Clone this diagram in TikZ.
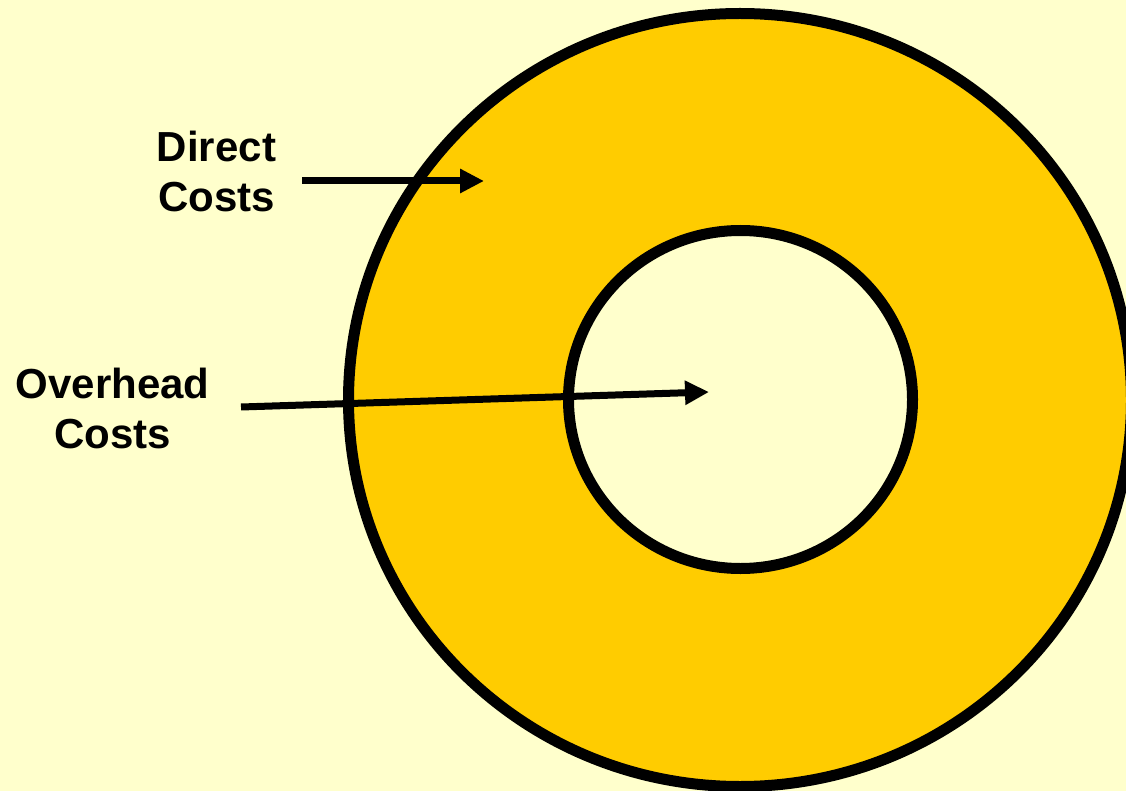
\documentclass[tikz,border=0pt]{standalone}
\usepackage{fontspec}
\setmainfont{Liberation Sans}
\usetikzlibrary{arrows.meta}
\definecolor{bgyellow}{HTML}{FFFFCC}
\definecolor{ringgold}{HTML}{FFCC00}
\tikzset{
  ring/.style={draw=black, line width=11pt},
  label/.style={font=\bfseries\fontsize{42}{50}\selectfont, align=center, inner sep=0pt},
  pointer/.style={draw=black, line width=7pt, -{Triangle[length=24pt, width=23pt]}}
}
\begin{document}
\begin{tikzpicture}[x=1pt, y=-1pt]
\useasboundingbox (0,0) rectangle (1126,791);
\fill[bgyellow] (0,0) rectangle (1126,791);
\begin{scope}
\clip (0,0) rectangle (1126,791);
\path[ring, fill=ringgold] (740,400) ellipse [x radius=391.5, y radius=386.5];
\end{scope}
\path[ring, fill=bgyellow] (740.5,399.5) ellipse [x radius=172, y radius=169];
\node[label, anchor=base] (direct) at (216.5,211.7) {Direct\\Costs};
\node[label, anchor=base] (overhead) at (112.5,448.3) {Overhead\\Costs};
\coordinate (dtail) at (302,181);
\coordinate (dtip) at (484,181);
\coordinate (otail) at (241,407);
\coordinate (otip) at (709,392);
\draw[pointer] (dtail) -- (dtip);
\draw[pointer] (otail) -- (otip);
\end{tikzpicture}
\end{document}
